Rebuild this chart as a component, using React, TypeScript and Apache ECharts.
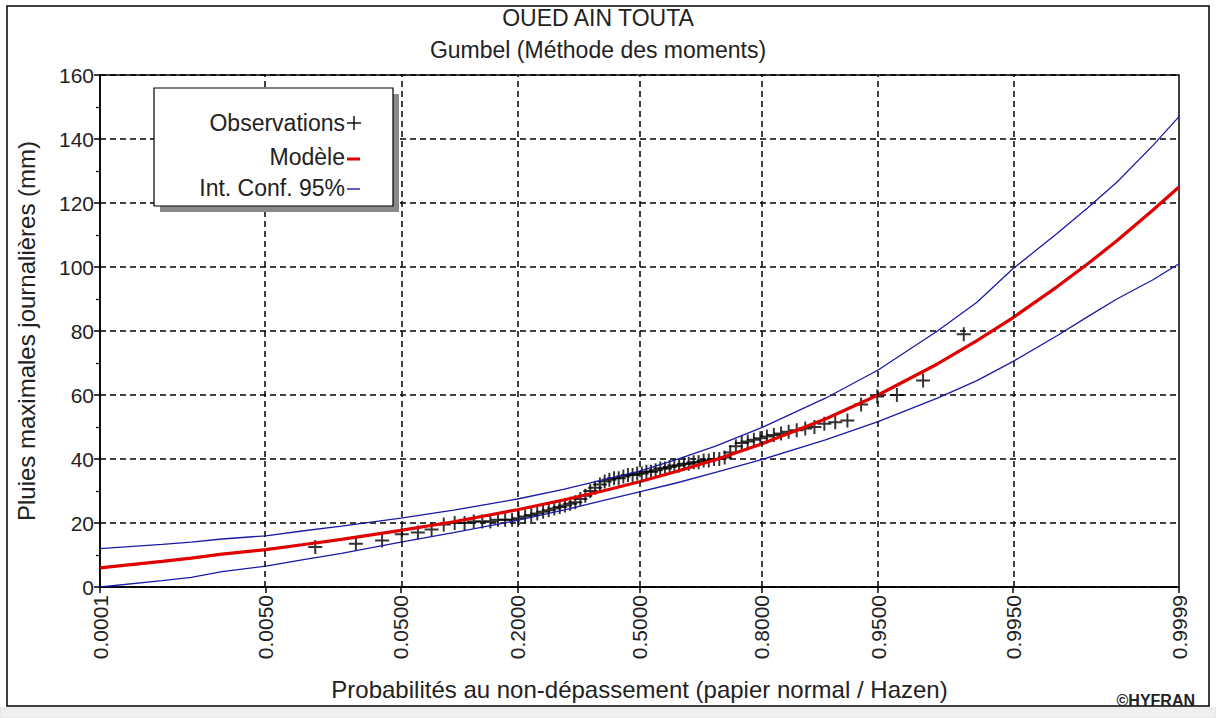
import React, { useEffect, useRef } from "react";
import * as echarts from "echarts";

// ---- data ----
const tickProbs = [0.0001, 0.005, 0.05, 0.2, 0.5, 0.8, 0.95, 0.995, 0.9999];
const tickLabels = ["0.0001", "0.0050", "0.0500", "0.2000", "0.5000", "0.8000", "0.9500", "0.9950", "0.9999"];

const obsProb = [
  0.0127, 0.0253, 0.038, 0.0506, 0.0633, 0.0759, 0.0886, 0.1013, 0.1139, 0.1266,
  0.1392, 0.1519, 0.1646, 0.1772, 0.1899, 0.2025, 0.2152, 0.2278, 0.2405, 0.2532,
  0.2658, 0.2785, 0.2911, 0.3038, 0.3165, 0.3291, 0.3418, 0.3544, 0.3671, 0.3797,
  0.3924, 0.4051, 0.4177, 0.4304, 0.443, 0.4557, 0.4684, 0.481, 0.4937, 0.5063,
  0.519, 0.5316, 0.5443, 0.557, 0.5696, 0.5823, 0.5949, 0.6076, 0.6203, 0.6329,
  0.6456, 0.6582, 0.6709, 0.6835, 0.6962, 0.7089, 0.7215, 0.7342, 0.7468, 0.7595,
  0.7722, 0.7848, 0.7975, 0.8101, 0.8228, 0.8354, 0.8481, 0.8608, 0.8734, 0.8861,
  0.8987, 0.9114, 0.9241, 0.9367, 0.9494, 0.962, 0.9747, 0.9873,
];
const obsValue = [
  12.5, 13.5, 14.5, 16.5, 17, 18, 19.5, 20, 20, 20.5,
  20.5, 20.5, 21, 21, 21, 21.5, 22, 22.5, 23, 23.5,
  24, 24.5, 25, 25.5, 26, 26.5, 27.5, 28.5, 30, 31,
  32, 33, 33.5, 34, 34, 34.5, 35, 35, 35.5, 35.5,
  36, 36, 36.5, 37, 37, 37.5, 38, 38, 38.5, 38.5,
  39, 39, 39.5, 39.5, 40, 40, 40.5, 42, 44, 45,
  45.5, 46, 46.5, 47, 47.5, 48, 48.5, 49, 49.5, 50,
  51, 51.5, 52, 57, 59.5, 60, 64.5, 79,
];

const curveProb = [
  0.0001, 0.0005, 0.001, 0.002, 0.005, 0.01, 0.02, 0.05, 0.1, 0.2, 0.3, 0.4, 0.5, 0.6,
  0.7, 0.8, 0.9, 0.95, 0.98, 0.99, 0.995, 0.998, 0.999, 0.9995, 0.9998, 0.9999,
];
const modelValue = [
  6, 8, 9, 10.3, 11.7, 13.2, 14.9, 17.7, 20.4, 24.15, 27.2, 30, 32.9, 36.1,
  39.8, 44.7, 52.5, 60, 69.7, 77, 84.2, 93.8, 101, 108.2, 117.8, 125,
];
const upperValue = [
  12, 13.3, 14, 15, 16, 17.5, 19, 21.5, 24, 27.5, 30.5, 33.5, 36.2, 39.8,
  44, 49.8, 59, 67.8, 80, 89, 99.5, 110.5, 118.5, 126.5, 138, 147,
];
const lowerValue = [
  0, 2, 3, 4.8, 6.5, 8.5, 10.5, 14, 17, 20.8, 24, 27, 29.7, 32.5,
  35.8, 39.8, 46, 51.7, 59, 64.5, 70.5, 78.5, 84.5, 90, 96, 101,
];

// normal-probability (probit) transform for the "papier normal" x scale
function probit(p: number): number {
  const a = [-3.969683028665376e1, 2.209460984245205e2, -2.759285104469687e2, 1.38357751867269e2, -3.066479806614716e1, 2.506628277459239];
  const b = [-5.447609879822406e1, 1.615858368580409e2, -1.556989798598866e2, 6.680131188771972e1, -1.328068155288572e1];
  const c = [-7.784894002430293e-3, -3.223964580411365e-1, -2.400758277161838, -2.549732539343734, 4.374664141464968, 2.938163982698783];
  const d = [7.784695709041462e-3, 3.224671290700398e-1, 2.445134137142996, 3.754408661907416];
  const pl = 0.02425;
  if (p < pl) {
    const q = Math.sqrt(-2 * Math.log(p));
    return (((((c[0] * q + c[1]) * q + c[2]) * q + c[3]) * q + c[4]) * q + c[5]) / ((((d[0] * q + d[1]) * q + d[2]) * q + d[3]) * q + 1);
  }
  if (p <= 1 - pl) {
    const q = p - 0.5;
    const r = q * q;
    return ((((((a[0] * r + a[1]) * r + a[2]) * r + a[3]) * r + a[4]) * r + a[5]) * q) / (((((b[0] * r + b[1]) * r + b[2]) * r + b[3]) * r + b[4]) * r + 1);
  }
  const q = Math.sqrt(-2 * Math.log(1 - p));
  return -(((((c[0] * q + c[1]) * q + c[2]) * q + c[3]) * q + c[4]) * q + c[5]) / ((((d[0] * q + d[1]) * q + d[2]) * q + d[3]) * q + 1);
}

const FONT = "Liberation Sans, Arial, sans-serif";
const BLUE = "#1a1aa8";
const RED = "#e00000";
const CROSS = "path://M4.3,0H5.7V10H4.3ZM0,4.3H10V5.7H0Z";

export default function App() {
  const ref = useRef<HTMLDivElement>(null);

  useEffect(() => {
    if (!ref.current) return;
    const chart = echarts.init(ref.current, undefined, { renderer: "svg" });
    const tickZ = tickProbs.map(probit);
    const xMin = tickZ[0];
    const xMax = tickZ[tickZ.length - 1];
    const labelFor = (v: number) => {
      let best = 0;
      tickZ.forEach((z, i) => {
        if (Math.abs(z - v) < Math.abs(tickZ[best] - v)) best = i;
      });
      return tickLabels[best];
    };
    const curve = (vals: number[]) => curveProb.map((p, i) => [probit(p), vals[i]]);

    chart.setOption({
      animation: false,
      backgroundColor: "#ffffff",
      textStyle: { fontFamily: FONT },
      grid: {
        left: 100,
        right: 37,
        top: 75,
        bottom: 131,
        show: true,
        borderColor: "#000",
        borderWidth: 1.5,
        backgroundColor: "transparent",
      },
      xAxis: {
        type: "value",
        min: xMin,
        max: xMax,
        name: "Probabilités au non-dépassement (papier normal / Hazen)",
        nameLocation: "middle",
        nameGap: 90,
        nameTextStyle: { fontSize: 24, color: "#222", fontFamily: FONT },
        axisLine: { onZero: false, lineStyle: { color: "#000", width: 1.5 } },
        axisTick: { show: true, length: 6, lineStyle: { color: "#000", width: 1.5 }, customValues: tickZ },
        axisLabel: {
          rotate: 90,
          fontSize: 21,
          color: "#222",
          fontFamily: FONT,
          margin: 8,
          customValues: tickZ,
          formatter: (v: number) => labelFor(v),
        },
        splitLine: { show: false },
      },
      yAxis: {
        type: "value",
        min: 0,
        max: 160,
        interval: 20,
        name: "Pluies maximales journalières (mm)",
        nameLocation: "middle",
        nameGap: 62,
        nameTextStyle: { fontSize: 24, color: "#222", fontFamily: FONT },
        axisLine: { show: true, onZero: false, lineStyle: { color: "#000", width: 1.5 } },
        axisTick: { show: true, length: 6, lineStyle: { color: "#000", width: 1.5 } },
        minorTick: { show: true, splitNumber: 2, length: 4, lineStyle: { color: "#000", width: 1.2 } },
        axisLabel: { fontSize: 21, color: "#222", fontFamily: FONT, margin: 6 },
        splitLine: { show: true, lineStyle: { color: "#000", width: 1.5, type: [6, 4] } },
      },
      series: [
        {
          name: "IC bas",
          type: "line",
          data: curve(lowerValue),
          showSymbol: false,
          lineStyle: { color: BLUE, width: 1.3 },
          markLine: {
            silent: true,
            symbol: ["none", "none"],
            label: { show: false },
            lineStyle: { color: "#000", width: 1.5, type: [6, 4] },
            data: tickZ.slice(1, -1).map((z) => ({ xAxis: z })),
          },
        },
        {
          name: "IC haut",
          type: "line",
          data: curve(upperValue),
          showSymbol: false,
          lineStyle: { color: BLUE, width: 1.3 },
        },
        {
          name: "Observations",
          type: "scatter",
          data: obsProb.map((p, i) => [probit(p), obsValue[i]]),
          symbol: CROSS,
          symbolSize: 14,
          itemStyle: { color: "#000" },
        },
        {
          name: "Modèle",
          type: "line",
          data: curve(modelValue),
          showSymbol: false,
          lineStyle: { color: RED, width: 3.2 },
        },
      ],
      graphic: [
        // outer frame
        { type: "rect", shape: { x: 7, y: 6, width: 1202, height: 700 }, style: { fill: "none", stroke: "#000", lineWidth: 1.5 }, silent: true },
        { type: "rect", shape: { x: 0, y: 708, width: 1216, height: 10 }, style: { fill: "#f0f0f0", stroke: "#e2e2e2", lineWidth: 1 }, silent: true },
        // titles
        { type: "text", x: 598, y: 18, style: { text: "OUED AIN TOUTA", fontSize: 23, fill: "#222", fontFamily: FONT, align: "center", verticalAlign: "middle" } },
        { type: "text", x: 598, y: 50, style: { text: "Gumbel (Méthode des moments)", fontSize: 23, fill: "#222", fontFamily: FONT, align: "center", verticalAlign: "middle" } },
        // legend box with shadow
        { type: "rect", z: 10, shape: { x: 160, y: 94, width: 239, height: 118 }, style: { fill: "#8a8a8a" } },
        { type: "rect", z: 11, shape: { x: 154, y: 88, width: 239, height: 118 }, style: { fill: "#fff", stroke: "#000", lineWidth: 1.2 } },
        { type: "text", z: 12, x: 345, y: 123, style: { text: "Observations", fontSize: 23, fill: "#222", fontFamily: FONT, align: "right", verticalAlign: "middle" } },
        { type: "line", z: 12, shape: { x1: 347, y1: 123, x2: 361, y2: 123 }, style: { stroke: "#000", lineWidth: 1.4 } },
        { type: "line", z: 12, shape: { x1: 354, y1: 116, x2: 354, y2: 130 }, style: { stroke: "#000", lineWidth: 1.4 } },
        { type: "text", z: 12, x: 345, y: 157, style: { text: "Modèle", fontSize: 23, fill: "#222", fontFamily: FONT, align: "right", verticalAlign: "middle" } },
        { type: "line", z: 12, shape: { x1: 347, y1: 159, x2: 360, y2: 159 }, style: { stroke: RED, lineWidth: 3 } },
        { type: "text", z: 12, x: 345, y: 188, style: { text: "Int. Conf. 95%", fontSize: 23, fill: "#222", fontFamily: FONT, align: "right", verticalAlign: "middle" } },
        { type: "line", z: 12, shape: { x1: 347, y1: 189, x2: 360, y2: 189 }, style: { stroke: BLUE, lineWidth: 1.4 } },
        // copyright
        { type: "text", x: 1195, y: 700, style: { text: "©HYFRAN", fontSize: 16, fontWeight: "bold", fill: "#222", fontFamily: FONT, align: "right", verticalAlign: "middle" } },
      ],
    });
    return () => chart.dispose();
  }, []);

  return <div ref={ref} style={{ position: "fixed", left: 0, top: 0, width: 1216, height: 718 }} />;
}
